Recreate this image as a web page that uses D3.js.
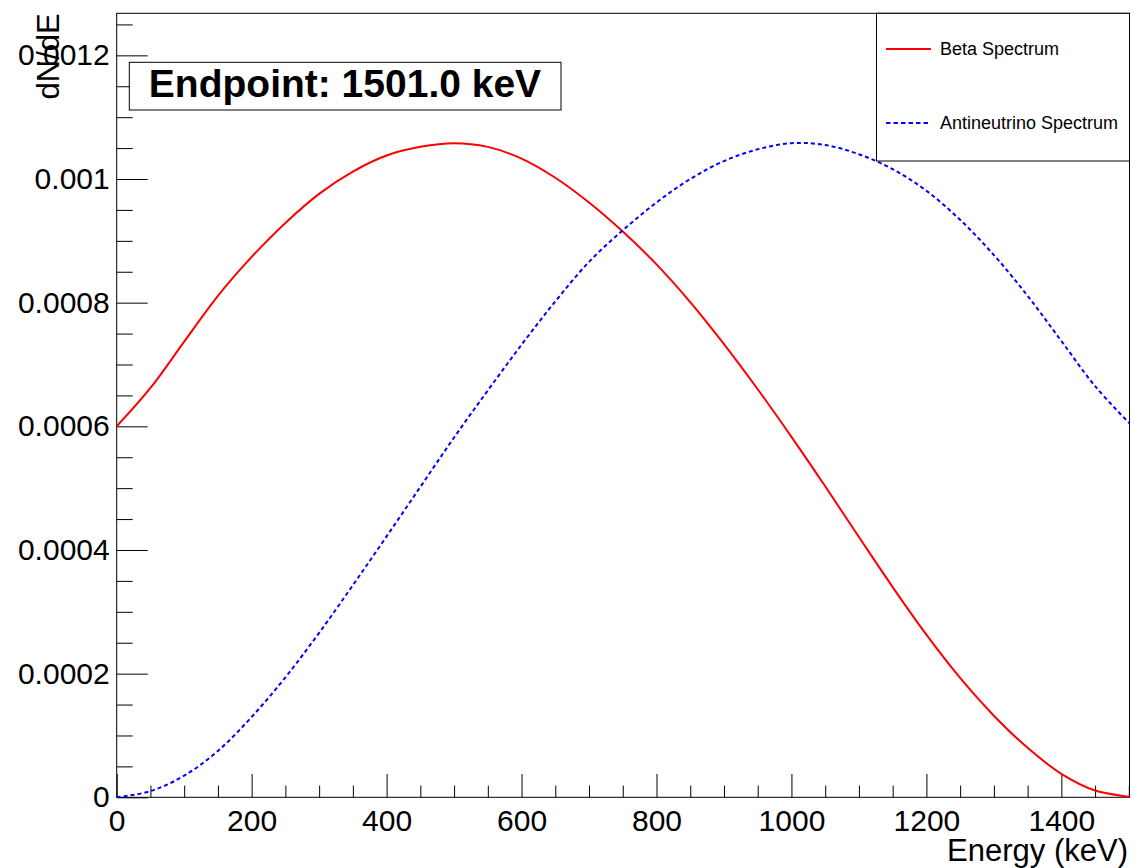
<!DOCTYPE html>
<html>
<head>
<meta charset="utf-8">
<script src="https://cdn.jsdelivr.net/npm/d3@7"></script>
<style>
  html, body { margin: 0; padding: 0; background: #fff; }
  svg { display: block; }
  text { font-family: "Liberation Sans", Arial, Helvetica, sans-serif; fill: #000; }
</style>
</head>
<body>
<svg id="chart" width="1134" height="868"></svg>
<script>
// ---- data ----
const energies = [0, 50, 100, 150, 200, 250, 300, 350, 400, 450, 500, 550, 600, 650, 700, 750,
                  800, 850, 900, 950, 1000, 1050, 1100, 1150, 1200, 1250, 1300, 1350, 1400, 1450, 1500, 1501];
const betaSpectrum = [0.000600, 0.000662, 0.000737, 0.000811, 0.000874, 0.000929, 0.000976, 0.001012,
                      0.001038, 0.001052, 0.001058, 0.001052, 0.001033, 0.001002, 0.000962, 0.000915,
                      0.000862, 0.000801, 0.000733, 0.000660, 0.000583, 0.000503, 0.000421, 0.000340,
                      0.000263, 0.000193, 0.000132, 0.000080, 0.000038, 0.000011, 0.0000005, 0.0];
const antineutrinoSpectrum = [0.0, 0.000010, 0.000035, 0.000075, 0.000130, 0.000194, 0.000266, 0.000343,
                      0.000422, 0.000502, 0.000582, 0.000658, 0.000732, 0.000802, 0.000866, 0.000917,
                      0.000962, 0.001000, 0.001029, 0.001048, 0.001058, 0.001055, 0.001040, 0.001016,
                      0.000981, 0.000934, 0.000877, 0.000811, 0.000738, 0.000665, 0.000606, 0.000605];
const xTickValues = [0, 200, 400, 600, 800, 1000, 1200, 1400];
const xTickLabels = ["0", "200", "400", "600", "800", "1000", "1200", "1400"];
const xMinorStep = 50;
const yTickValues = [0, 0.0002, 0.0004, 0.0006, 0.0008, 0.001, 0.0012];
const yTickLabels = ["0", "0.0002", "0.0004", "0.0006", "0.0008", "0.001", "0.0012"];
const yMinorStep = 0.00005;
const seriesNames = ["Beta Spectrum", "Antineutrino Spectrum"];
const seriesColors = ["#ff0000", "#0000ff"];
const endpointText = "Endpoint: 1501.0 keV";
const xTitle = "Energy (keV)";
const yTitle = "dN/dE";
const xMax = 1501;
const yMax = 0.001268;

// ---- layout ----
const frame = { left: 116.7, right: 1129.5, top: 13.3, bottom: 797.3 };
const svg = d3.select("#chart");

const x = d3.scaleLinear().domain([0, xMax]).range([frame.left, frame.right]);
const y = d3.scaleLinear().domain([0, yMax]).range([frame.bottom, frame.top]);

// frame
svg.append("rect")
  .attr("x", frame.left).attr("y", frame.top)
  .attr("width", frame.right - frame.left).attr("height", frame.bottom - frame.top)
  .attr("fill", "none").attr("stroke", "#000").attr("stroke-width", 1);

// y axis (major + minor)
const yMinor = d3.range(0, yMax + 1e-9, yMinorStep).filter(v => !yTickValues.some(t => Math.abs(t - v) < 1e-9));
const yAxisMinor = svg.append("g").attr("transform", `translate(${frame.left},0)`)
  .call(d3.axisLeft(y).tickValues(yMinor).tickSizeInner(-16).tickSizeOuter(0).tickFormat(""));
const yAxis = svg.append("g").attr("transform", `translate(${frame.left},0)`)
  .call(d3.axisLeft(y).tickValues(yTickValues).tickSizeInner(-31).tickSizeOuter(0).tickPadding(7)
        .tickFormat((d, i) => yTickLabels[i]));
[yAxisMinor, yAxis].forEach(g => {
  g.select(".domain").remove();
  g.selectAll("line").attr("stroke", "#000").attr("stroke-width", 1);
});
yAxis.selectAll("text").attr("font-size", 30).attr("fill", "#000")
  .attr("font-family", "'Liberation Sans', Arial, sans-serif");

// x axis (major + minor)
const xMinor = d3.range(0, xMax + 1e-9, xMinorStep).filter(v => !xTickValues.includes(v));
const xAxisMinor = svg.append("g").attr("transform", `translate(0,${frame.bottom})`)
  .call(d3.axisBottom(x).tickValues(xMinor).tickSizeInner(-11.7).tickSizeOuter(0).tickFormat(""));
const xAxis = svg.append("g").attr("transform", `translate(0,${frame.bottom})`)
  .call(d3.axisBottom(x).tickValues(xTickValues).tickSizeInner(-23.3).tickSizeOuter(0).tickPadding(12.5)
        .tickFormat((d, i) => xTickLabels[i]));
[xAxisMinor, xAxis].forEach(g => {
  g.select(".domain").remove();
  g.selectAll("line").attr("stroke", "#000").attr("stroke-width", 1);
});
xAxis.selectAll("text").attr("font-size", 30).attr("fill", "#000")
  .attr("font-family", "'Liberation Sans', Arial, sans-serif");

// axis titles
svg.append("text")
  .attr("x", 1128).attr("y", 861)
  .attr("text-anchor", "end").attr("font-size", 31)
  .text(xTitle);
svg.append("text")
  .attr("transform", `translate(59,${frame.top}) rotate(-90)`)
  .attr("text-anchor", "end").attr("font-size", 31)
  .text(yTitle);

// curves
svg.append("clipPath").attr("id", "plotclip").append("rect")
  .attr("x", frame.left).attr("y", frame.top)
  .attr("width", frame.right - frame.left).attr("height", frame.bottom - frame.top + 1);

const line = d3.line().x(d => x(d[0])).y(d => y(d[1])).curve(d3.curveCatmullRom.alpha(0.5));
const betaPts = energies.map((e, i) => [e, betaSpectrum[i]]);
const nuPts = energies.map((e, i) => [e, antineutrinoSpectrum[i]]);

svg.append("path").datum(betaPts)
  .attr("clip-path", "url(#plotclip)")
  .attr("d", line).attr("fill", "none")
  .attr("stroke", seriesColors[0]).attr("stroke-width", 2);
svg.append("path").datum(nuPts)
  .attr("clip-path", "url(#plotclip)")
  .attr("d", line).attr("fill", "none")
  .attr("stroke", seriesColors[1]).attr("stroke-width", 2)
  .attr("stroke-dasharray", "4,3");

// endpoint box
const ep = svg.append("g");
ep.append("rect")
  .attr("x", 129.3).attr("y", 62.3).attr("width", 431.7).attr("height", 47.7)
  .attr("fill", "#fff").attr("stroke", "#000").attr("stroke-width", 1);
ep.append("text")
  .attr("x", 345).attr("y", 97).attr("text-anchor", "middle")
  .attr("font-size", 39).attr("font-weight", "bold")
  .text(endpointText);

// legend
const lg = svg.append("g");
lg.append("rect")
  .attr("x", 876.5).attr("y", frame.top).attr("width", frame.right - 876.5).attr("height", 161 - frame.top)
  .attr("fill", "#fff").attr("stroke", "#000").attr("stroke-width", 1);
const legendY = [49, 123];
seriesNames.forEach((name, i) => {
  lg.append("line")
    .attr("x1", 886).attr("x2", 931).attr("y1", legendY[i]).attr("y2", legendY[i])
    .attr("stroke", seriesColors[i]).attr("stroke-width", 2)
    .attr("stroke-dasharray", i === 1 ? "4.5,3" : null);
  lg.append("text")
    .attr("x", 940).attr("y", legendY[i]).attr("dy", "0.36em")
    .attr("font-size", 18)
    .text(name);
});
</script>
</body>
</html>
